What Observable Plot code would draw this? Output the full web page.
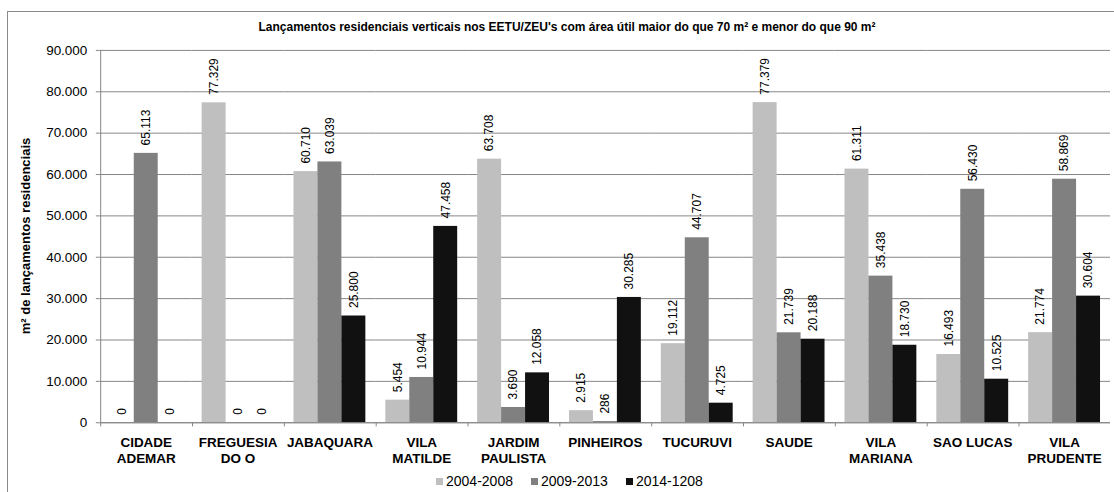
<!DOCTYPE html>
<html>
<head>
<meta charset="utf-8">
<script src="https://cdn.jsdelivr.net/npm/d3@7"></script>
<script src="https://cdn.jsdelivr.net/npm/@observablehq/plot@0.6"></script>
<style>
  html, body { margin: 0; padding: 0; background: #fff; overflow: hidden; }
  body { width: 1114px; height: 492px; position: relative; font-family: "Liberation Sans", Arial, sans-serif; }
  #frame { position: absolute; left: 7px; top: 11px; width: 2000px; height: 2000px; border-left: 1px solid #8a8a8a; border-top: 1px solid #8a8a8a; pointer-events: none; z-index: 2; }
  #title { position: absolute; left: 567px; top: 20px; transform: translateX(-50%); white-space: nowrap; font-weight: bold; font-size: 12px; line-height: 14px; color: #000; }
  #ylabel { position: absolute; left: 25px; top: 236px; transform: translate(-50%, -50%) rotate(-90deg); white-space: nowrap; font-weight: bold; font-size: 13px; color: #000; }
  #chart { position: absolute; left: 0; top: 0; }
  #legend { position: absolute; left: 436px; top: 473px; display: flex; align-items: center; font-size: 14px; line-height: 17px; color: #000; white-space: nowrap; }
  #legend .item { display: flex; align-items: center; margin-right: 18px; }
  #legend .sw { width: 7px; height: 7px; margin-right: 3px; }
</style>
</head>
<body>
<div id="frame"></div>
<div id="title"></div>
<div id="ylabel"></div>
<div id="chart"></div>
<div id="legend"></div>
<script>
const titleText = "Lançamentos residenciais verticais nos EETU/ZEU's com área útil maior do que 70 m² e menor do que 90 m²";
const yLabelText = "m² de lançamentos residenciais";

const categories = ["CIDADE ADEMAR","FREGUESIA DO O","JABAQUARA","VILA MATILDE","JARDIM PAULISTA","PINHEIROS","TUCURUVI","SAUDE","VILA MARIANA","SAO LUCAS","VILA PRUDENTE"];
const categoryLabels = ["CIDADE\nADEMAR","FREGUESIA\nDO O","JABAQUARA","VILA\nMATILDE","JARDIM\nPAULISTA","PINHEIROS","TUCURUVI","SAUDE","VILA\nMARIANA","SAO LUCAS","VILA\nPRUDENTE"];
const series = ["2004-2008","2009-2013","2014-1208"];
const values2004_2008 = [0, 77329, 60710, 5454, 63708, 2915, 19112, 77379, 61311, 16493, 21774];
const values2009_2013 = [65113, 0, 63039, 10944, 3690, 286, 44707, 21739, 35438, 56430, 58869];
const values2014_1208 = [0, 0, 25800, 47458, 12058, 30285, 4725, 20188, 18730, 10525, 30604];
const yTicks = [0, 10000, 20000, 30000, 40000, 50000, 60000, 70000, 80000, 90000];
const colors = ["#bfbfbf", "#808080", "#111111"];

const seriesValues = [values2004_2008, values2009_2013, values2014_1208];
const rows = categories.flatMap((c, i) => series.map((s, j) => ({category: c, series: s, value: seriesValues[j][i]})));

const fmt = d3.formatLocale({decimal: ",", thousands: ".", grouping: [3], currency: ["", ""]}).format(",d");

document.getElementById("title").textContent = titleText;
document.getElementById("ylabel").textContent = yLabelText;

const W = 1116, ML = 96, MR = 0;
const fxStep = (W - ML - MR) / categories.length;
const innerPadOuter = 0.375;
const innerStep = fxStep / (series.length + 2 * innerPadOuter);
const boundaryDx = -(innerPadOuter * innerStep + innerStep / 2);
const gridColor = "#878787";

const chart = Plot.plot({
  width: W,
  height: 470,
  marginTop: 50,
  marginBottom: 47,
  marginLeft: ML,
  marginRight: MR,
  style: {fontFamily: "'Liberation Sans', Arial, sans-serif", fontSize: "13.5px", background: "transparent", color: "#000", overflow: "visible"},
  fx: {domain: categories, padding: 0, axis: null, label: null},
  x: {domain: series, paddingInner: 0, paddingOuter: innerPadOuter, axis: null},
  y: {domain: [0, 90000], axis: null},
  color: {domain: series, range: colors},
  marks: [
    Plot.gridY(yTicks, {stroke: gridColor, strokeOpacity: 1, strokeWidth: 1}),
    Plot.axisY(yTicks, {tickFormat: fmt, tickSize: 4, tickPadding: 9, stroke: gridColor, fontSize: 13.5, label: null}),
    Plot.barY(rows, {fx: "category", x: "series", y: "value", fill: "series"}),
    Plot.ruleY([0], {stroke: gridColor}),
    Plot.ruleX(categories.slice(0, 1), {fx: d => d, x: () => series[0], y1: 0, y2: 90000, dx: boundaryDx, stroke: gridColor}),
    Plot.ruleX(categories, {fx: d => d, x: () => series[0], y1: 0, y2: -1000, dx: boundaryDx, stroke: gridColor}),
    Plot.text(rows, {fx: "category", x: "series", y: "value", text: d => fmt(d.value), rotate: -90, textAnchor: "start", dy: -8, fontSize: 12, fill: "#000"}),
    Plot.axisFx({anchor: "bottom", tickSize: 0, tickPadding: 12, tickFormat: c => categoryLabels[categories.indexOf(c)], fontWeight: "bold", fontSize: 13.5, lineHeight: 1.24, label: null})
  ]
});
document.getElementById("chart").appendChild(chart);

const legend = document.getElementById("legend");
series.forEach((s, j) => {
  const item = document.createElement("div");
  item.className = "item";
  const sw = document.createElement("span");
  sw.className = "sw";
  sw.style.background = colors[j];
  const t = document.createElement("span");
  t.textContent = s;
  item.appendChild(sw);
  item.appendChild(t);
  legend.appendChild(item);
});
</script>
</body>
</html>
